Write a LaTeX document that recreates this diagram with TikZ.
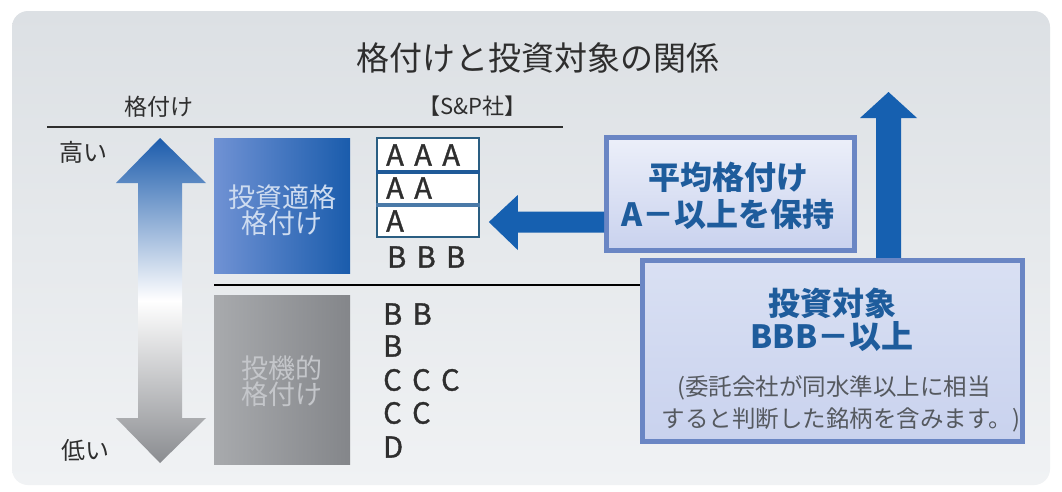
\documentclass[tikz,border=0pt]{standalone}
\usepackage{fontspec}
\setmainfont{Noto Sans CJK JP}
\newfontfamily\ratefont[FakeBold=1.2]{Noto Sans CJK JP}
\usetikzlibrary{calc}
\definecolor{panelTop}{HTML}{DCE0E4}
\definecolor{panelBot}{HTML}{F0F2F4}
\definecolor{arrowBlue}{HTML}{1660B0}
\definecolor{boxBorder}{HTML}{6A86C4}
\definecolor{boxText}{HTML}{1E5C9C}
\definecolor{rateBorder}{HTML}{2A5E82}
\definecolor{rateSep}{HTML}{1F5A98}
\definecolor{rateSepB}{HTML}{4A7AA8}
\definecolor{inkGray}{HTML}{2E2E2E}
\definecolor{noteGray}{HTML}{55595F}
\definecolor{boxShadeB}{HTML}{C9D2EE}
\definecolor{avgTop}{HTML}{ECEFF9}
\definecolor{tgTop}{HTML}{D9E0F3}
\newcommand\fs[1]{\fontsize{#1}{#1}\selectfont}
\newcommand\rg{\hspace{0.36em}}
\begin{document}
\begin{tikzpicture}[x=1pt,y=-1pt,
  lbl/.style={text=inkGray, inner sep=0pt},
  ratebox/.style={draw=rateBorder, line width=1.6pt, fill=white, minimum width=102pt, minimum height=33pt, inner sep=0pt},
  ratetxt/.style={anchor=west, inner sep=0pt, font=\ratefont\fs{29}, text=inkGray},
  infobox/.style={draw=boxBorder, line width=5pt, top color=#1, bottom color=boxShadeB, inner sep=0pt},
  boxtxt/.style={inner sep=0pt, text=boxText, font=\fs{32}\bfseries},
  notetxt/.style={inner sep=0pt, text=noteGray, font=\fs{23.5}},
  cattxt/.style={inner sep=0pt, align=center, font=\fs{27}},
  fatarrow/.style={fill=arrowBlue, draw=none}
]
\useasboundingbox (0,0) rectangle (1062,491);
\fill[white] (0,0) rectangle (1062,491);
% panel
\shade[top color=panelTop, bottom color=panelBot, rounded corners=16pt] (12,11) rectangle (1050,485);

% title and headers
\node[lbl, font=\fs{33}] (title) at (538,58) {格付けと投資対象の関係};
\node[lbl, font=\fs{23}] (hRating) at (159,107) {格付け};
\node[lbl, font=\fs{22}] (hSP) at (472,106) {【S\&P社】};
\coordinate (topL) at (47,127);
\coordinate (topR) at (563,127);
\draw[line width=2.6pt, draw=inkGray] (topL) -- (topR);

\node[lbl, font=\fs{24}] (high) at (83,152) {高い};
\node[lbl, font=\fs{24}] (low) at (85,450) {低い};

% scale double arrow
\shade[top color={rgb,255:red,28;green,92;blue,172}, bottom color={rgb,255:red,138;green,140;blue,144}, middle color=white]
  (160,138) -- (206,183) -- (182,183) -- (182,418) -- (206,418) -- (160,463)
  -- (116,418) -- (138,418) -- (138,183) -- (116,183) -- cycle;

% category boxes
\shade[left color={rgb,255:red,112;green,146;blue,212}, right color={rgb,255:red,26;green,92;blue,172}]
  (214,138) rectangle (350,273);
\node[cattxt, text={rgb,255:red,206;green,220;blue,240}] (invGrade) at (282,210) {投資適格\\[-1pt]格付け};
\shade[left color={rgb,255:red,168;green,170;blue,173}, right color={rgb,255:red,132;green,134;blue,138}]
  (214,295) rectangle (350,464);
\node[cattxt, text={rgb,255:red,196;green,198;blue,202}] (specGrade) at (282,381) {投機的\\[-1pt]格付け};

% mid line
\coordinate (midL) at (214,285);
\draw[line width=2.6pt, draw=black] (midL) -- (640,285);

% rating boxes
\node[ratebox] (rAAA) at (428,154.5) {};
\node[ratebox] (rAA) at (428,187.5) {};
\node[ratebox] (rA) at (428,220.5) {};
\draw[line width=3.5pt, draw=rateSep] (rAAA.south west) -- (rAAA.south east);
\draw[line width=3.5pt, draw=rateSepB] (rAA.south west) -- (rAA.south east);
\node[ratetxt] (tAAA) at (386,155) {A\rg A\rg A};
\node[ratetxt] (tAA) at (386,188) {A\rg A};
\node[ratetxt] (tA) at (386,221) {A};
\node[ratetxt] (tBBB) at (387,257) {B\rg B\rg B};
\node[ratetxt] (tBB) at (383,314) {B\rg B};
\node[ratetxt] (tB) at (383,346) {B};
\node[ratetxt] (tCCC) at (383,380) {C\rg C\rg C};
\node[ratetxt] (tCC) at (383,413) {C\rg C};
\node[ratetxt] (tD) at (383,447) {D};

% average box
\node[infobox=avgTop, minimum width=248pt, minimum height=113pt] (avg) at (730.5,194) {};
\node[boxtxt] (avg1) at (728,177) {平均格付け};
\node[boxtxt] (avg2) at (728,214) {A－以上を保持};

% left fat arrow avg -> rA
\coordinate (tipL) at ($(rA.east)+(9,1.5)$);
\fill[fatarrow] (tipL) -- ($(tipL)+(29,-27)$) -- ($(tipL)+(29,-10.5)$) -- ($(avg.west |- tipL)+(0,-10.5)$)
  -- ($(avg.west |- tipL)+(0,10.5)$) -- ($(tipL)+(29,10.5)$) -- ($(tipL)+(29,28)$) -- cycle;

% up fat arrow from target box
\coordinate (upTip) at (888.5,92);
\fill[fatarrow] (upTip) -- (917,118) -- (901,118) -- (901,262) -- (876,262) -- (876,118) -- (860,118) -- cycle;

% target box
\node[infobox=tgTop, minimum width=380pt, minimum height=181pt] (target) at (832.5,351) {};
\node[boxtxt] (tg1) at (832,303) {投資対象};
\node[boxtxt] (tg2) at (832,337) {BBB－以上};
\node[notetxt] (tg3) at (834,388) {(委託会社が同水準以上に相当};
\node[notetxt] (tg4) at (841,420) {すると判断した銘柄を含みます。)};
\end{tikzpicture}
\end{document}
